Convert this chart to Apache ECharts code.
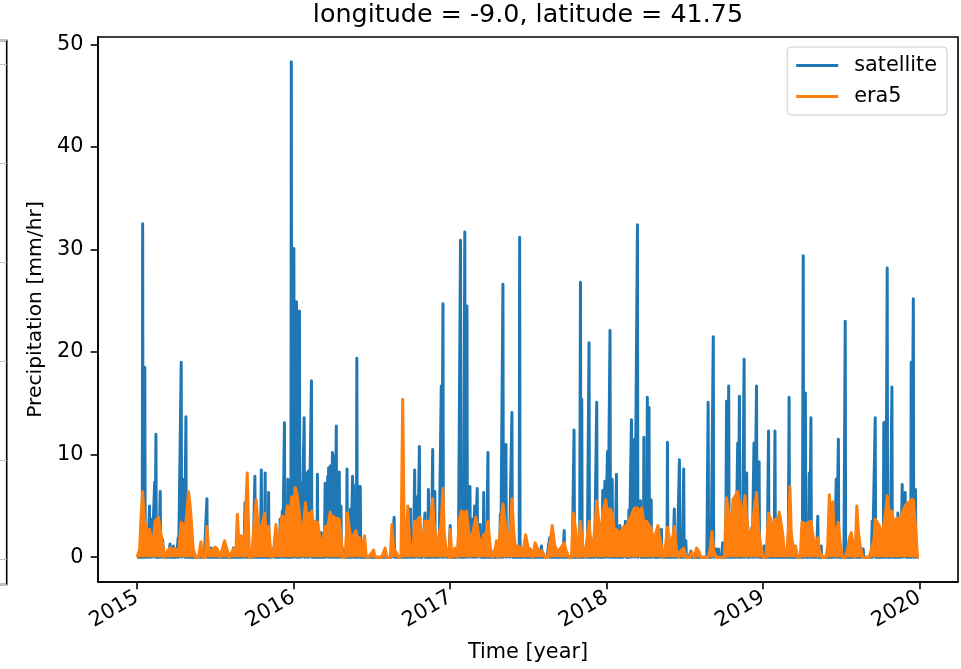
<!DOCTYPE html>
<html><head><meta charset="utf-8">
<script src="https://cdn.jsdelivr.net/npm/echarts@6/dist/echarts.min.js"></script>
<style>html,body{margin:0;padding:0;background:#fff}#c{width:961px;height:669px}</style>
</head><body><div id="c"></div><script>
// ---- chart text ----
const titleText = 'longitude = -9.0, latitude = 41.75';
const xAxisName = 'Time [year]';
const yAxisName = 'Precipitation [mm/hr]';
const seriesNames = ['satellite', 'era5'];
const yearTicks = [2015, 2016, 2017, 2018, 2019, 2020];
const yTicks = [0, 10, 20, 30, 40, 50];
// ---- data: days since 2015-01-01 (daily record, 2015-01-01 .. 2019-12-31) ----
const lastDay = 1825;
// satellite: wet days [day, mm/hr]; all other days read as 0
const satelliteWetDays = [[13,32.5],[18,18.5],[29,5.0],[34,3.7],[41,7.3],[44,12.0],[54,6.4],[60,1.7],[77,1.3],[85,1.1],
[96,1.9],[103,19.0],[110,7.6],[114,13.7],[163,5.7],[173,0.9],[225,0.9],[248,1.7],[252,5.3],[275,7.9],
[290,8.5],[299,8.2],[307,6.3],[319,0.9],[334,3.7],[339,4.5],[344,13.1],[352,7.6],[360,48.3],[366,30.1],
[372,24.9],[375,6.6],[379,24.0],[383,7.2],[390,13.6],[395,8.2],[400,8.4],[407,17.2],[421,8.1],[430,2.4],
[439,7.2],[445,7.9],[447,8.7],[451,8.9],[456,10.2],[461,9.9],[465,12.8],[469,7.9],[472,8.3],[476,5.0],
[482,0.8],[490,8.6],[498,4.7],[503,7.9],[505,7.1],[513,19.4],[517,6.9],[521,6.9],[600,3.9],[627,1.9],
[638,4.7],[648,8.5],[654,5.9],[659,10.8],[672,4.3],[680,6.6],[690,10.5],[695,6.4],[704,1.3],[710,16.7],
[714,24.7],[721,0.8],[731,3.1],[755,30.9],[765,31.7],[770,24.5],[777,6.9],[783,3.7],[788,5.0],[794,6.7],
[801,3.2],[809,6.3],[819,10.2],[833,0.6],[848,4.2],[854,26.6],[861,11.0],[868,1.1],[875,14.1],[885,1.1],
[893,31.2],[904,0.8],[944,1.1],[963,1.9],[997,2.6],[1020,12.4],[1035,26.8],[1038,15.4],[1055,20.9],[1073,15.1],
[1087,6.5],[1092,7.4],[1098,10.3],[1104,22.1],[1109,7.6],[1119,8.1],[1127,3.1],[1140,3.5],[1148,4.6],[1154,13.4],
[1161,11.5],[1168,32.4],[1175,5.5],[1183,11.7],[1191,15.6],[1195,14.6],[1200,5.6],[1206,1.6],[1224,2.7],[1238,11.2],
[1254,4.7],[1266,9.5],[1276,8.6],[1281,1.6],[1293,0.6],[1333,15.1],[1345,21.5],[1351,0.8],[1357,0.8],[1367,1.4],
[1376,15.2],[1381,16.7],[1391,3.5],[1402,11.1],[1406,15.7],[1417,19.3],[1423,8.2],[1435,2.9],[1440,11.1],[1446,16.7],
[1452,9.3],[1464,1.1],[1474,12.3],[1489,12.3],[1522,15.6],[1555,29.4],[1560,16.0],[1569,8.2],[1573,13.6],[1589,4.0],
[1597,1.1],[1632,7.6],[1637,11.5],[1653,23.0],[1695,0.8],[1716,3.5],[1723,13.6],[1743,13.1],[1747,13.2],[1751,28.2],
[1762,16.6],[1776,4.3],[1786,7.1],[1793,6.3],[1807,19.0],[1812,25.2],[1817,6.6]];
// era5: readings [day, mm/hr]
const era5Readings = [[0,0],[4,0],[6,0.8],[9,3.7],[13,6.4],[18,2.9],[21,3.2],[24,2.1],[29,2.7],[33,2.6],[37,1.1],[42,3.5],[46,3.5],[50,3.9],[54,2.7],[58,1.7],[61,1.7],[65,0],[71,0.6],[77,0.9],[82,0.6],[87,0.9],[93,0.6],[98,0.9],[103,3.4],[107,3.2],[112,2.7],[116,4.3],[120,6.4],[124,5.0],[128,2.7],[131,0.8],[137,0],[143,0],[149,1.5],[153,0],[159,0],[163,3.0],[167,0.8],[174,0.6],[182,1.0],[187,0.8],[194,0],[204,1.6],[209,0.9],[215,0],[225,0.8],[231,0.9],[234,4.2],[238,1.1],[243,2.1],[246,0.8],[252,2.7],[257,8.2],[262,0],[267,0],[273,3.0],[278,5.6],[283,2.7],[287,2.7],[292,3.2],[298,4.3],[302,1.7],[307,3.0],[313,0],[319,0.8],[324,3.2],[328,0.9],[333,2.4],[338,4.0],[342,4.0],[346,3.7],[351,5.0],[356,4.3],[361,5.9],[365,4.3],[369,6.8],[373,6.3],[377,5.0],[381,3.4],[385,2.1],[389,3.4],[393,5.3],[396,3.4],[400,4.3],[404,3.7],[408,4.5],[412,3.0],[416,3.5],[421,3.4],[426,2.1],[430,1.4],[435,1.7],[439,3.0],[445,3.0],[451,4.4],[455,3.5],[459,4.0],[463,3.4],[466,3.8],[472,3.7],[477,1.7],[480,0],[486,0],[491,4.3],[495,3.0],[500,1.4],[505,2.1],[511,2.6],[515,1.7],[519,1.9],[523,0.8],[527,1.1],[531,2.1],[535,0],[540,0],[552,0.7],[556,0],[571,0],[579,0.9],[583,0],[591,0],[595,3.2],[599,0.8],[603,0.6],[611,0],[616,0],[620,15.4],[624,0.8],[628,1.4],[632,5.0],[636,1.7],[640,0.8],[644,0.6],[648,3.5],[652,2.7],[656,3.7],[660,3.9],[664,1.7],[668,1.1],[672,3.5],[676,3.4],[679,3.5],[683,2.7],[690,5.7],[693,3.4],[697,2.1],[701,1.3],[705,1.3],[710,3.4],[714,6.7],[717,2.4],[722,0.6],[728,0],[731,2.7],[735,0],[742,0.9],[747,0],[752,3.7],[757,4.5],[763,4.3],[769,4.5],[774,2.4],[780,1.7],[784,1.7],[791,3.9],[796,2.4],[801,1.4],[805,1.1],[809,2.2],[815,2.4],[819,3.5],[825,0.8],[830,0],[835,0.6],[839,1.6],[843,0],[848,2.9],[854,5.2],[858,3.7],[862,3.7],[868,1.4],[871,2.4],[875,5.7],[879,2.7],[883,0.9],[889,1.1],[895,0.8],[901,0.6],[907,2.2],[913,0.9],[919,0.8],[924,0],[929,1.4],[934,0.9],[940,0.6],[946,0.6],[952,0],[958,0],[963,1.1],[969,3.1],[975,1.1],[981,0.6],[987,0.8],[991,0.9],[997,1.4],[1002,0.6],[1008,0],[1014,0],[1018,4.3],[1024,2.6],[1029,0],[1035,3.5],[1039,1.4],[1045,0],[1049,0],[1055,3.5],[1060,1.1],[1065,1.4],[1070,3.5],[1073,5.5],[1078,3.4],[1083,2.1],[1087,4.4],[1094,5.6],[1099,4.0],[1104,4.7],[1109,4.3],[1114,2.7],[1119,2.7],[1125,2.4],[1131,2.6],[1136,3.0],[1142,3.0],[1147,3.5],[1152,3.9],[1156,4.3],[1161,4.8],[1168,4.8],[1173,4.3],[1178,4.8],[1183,3.4],[1189,3.5],[1193,3.4],[1199,2.9],[1204,2.1],[1210,2.2],[1216,3.1],[1219,2.1],[1224,1.1],[1229,0],[1234,1.3],[1238,2.9],[1243,1.7],[1248,1.4],[1254,3.0],[1259,0.8],[1264,0],[1269,0.6],[1276,0.9],[1281,0],[1289,0],[1295,0.5],[1301,0],[1306,0.9],[1311,0.6],[1316,0],[1324,0],[1332,0],[1337,0.6],[1342,2.5],[1346,0.6],[1353,0],[1363,0],[1371,0],[1376,5.8],[1381,4.3],[1386,2.4],[1391,5.6],[1395,5.9],[1402,6.4],[1406,6.4],[1412,3.9],[1416,5.0],[1419,6.0],[1423,3.9],[1426,2.7],[1431,2.4],[1436,2.7],[1440,4.5],[1446,6.3],[1451,2.6],[1456,1.1],[1462,0],[1468,0],[1474,4.3],[1479,3.7],[1484,2.6],[1489,3.7],[1495,3.4],[1499,4.4],[1503,3.4],[1507,2.3],[1510,0.8],[1517,0.6],[1521,3.1],[1524,6.9],[1527,2.4],[1531,1.1],[1537,1.1],[1542,0],[1548,0],[1552,3.4],[1556,3.5],[1562,3.2],[1567,3.4],[1573,3.5],[1579,1.7],[1585,1.1],[1589,1.9],[1593,0.6],[1601,0],[1608,0],[1612,1.1],[1616,6.1],[1620,1.7],[1624,5.4],[1628,1.4],[1632,2.4],[1637,3.4],[1641,1.4],[1647,0],[1653,0],[1659,0.8],[1663,1.9],[1667,2.4],[1672,1.1],[1676,0],[1680,5.0],[1684,2.4],[1688,1.1],[1694,0],[1703,0],[1709,0],[1716,1.1],[1720,1.7],[1723,3.7],[1728,3.4],[1733,3.0],[1737,2.1],[1742,2.9],[1747,4.3],[1751,6.0],[1756,4.3],[1762,4.5],[1766,3.4],[1770,3.7],[1776,3.8],[1781,3.7],[1786,4.3],[1789,4.3],[1793,5.0],[1797,5.2],[1801,5.2],[1807,5.6],[1812,5.6],[1817,3.0],[1820,1.1],[1822,0],[1825,0]];

// ---- build series (x = UTC timestamp in ms) ----
const DAY = 86400000;
const t0 = Date.UTC(2015, 0, 1);
const wet = new Map(satelliteWetDays);
const satData = [];
for (let d = 0; d <= lastDay; d++) satData.push([t0 + d * DAY, wet.has(d) ? wet.get(d) : 0]);
const era5Data = era5Readings.map(([d, v]) => [t0 + d * DAY, v]);
const yearStamps = yearTicks.map(y => Date.UTC(y, 0, 1));

// matplotlib-like 5% margins
const yMaxData = Math.max(...satelliteWetDays.map(p => p[1]));
const yPad = 0.05 * yMaxData;
const xPad = 0.05 * lastDay * DAY;

const BLUE = '#1f77b4', ORANGE = '#ff7f0e';
const FONT = 'DejaVu Sans';
const txt = {fontFamily: FONT, fontSize: 20.8, color: '#000'};
const chart = echarts.init(document.getElementById('c'), null, {renderer: 'canvas'});
chart.setOption({
  animation: false,
  backgroundColor: '#fff',
  title: {text: titleText, left: 528, top: 3, textAlign: 'center', padding: 0,
    textStyle: {fontFamily: FONT, fontSize: 25.4, fontWeight: 'normal', color: '#000'}},
  legend: {data: [{name: seriesNames[0], icon: 'rect', itemStyle: {color: BLUE}},
                  {name: seriesNames[1], icon: 'rect', itemStyle: {color: ORANGE}}],
    orient: 'vertical', right: 14, top: 47, z: 10,
    padding: [8, 10, 8, 9], itemGap: 10, itemWidth: 42, itemHeight: 3,
    backgroundColor: 'rgba(255,255,255,0.8)', borderColor: '#cccccc', borderWidth: 1, borderRadius: 4,
    textStyle: Object.assign({padding: [0, 0, 0, 11]}, txt)},
  grid: [
    {left: 98, top: 37, width: 860, height: 545, show: true, borderColor: '#000', borderWidth: 1.6,
     backgroundColor: 'transparent', outerBoundsMode: 'none', containLabel: false},
    {left: -60, top: 40.5, width: 66.7, height: 544, show: true, borderColor: '#000', borderWidth: 1.6,
     backgroundColor: 'transparent', outerBoundsMode: 'none', containLabel: false}
  ],
  xAxis: [
    {type: 'value', gridIndex: 0, min: t0 - xPad, max: t0 + lastDay * DAY + xPad, scale: true,
     name: xAxisName, nameLocation: 'middle', nameGap: 60, nameTextStyle: txt,
     axisLine: {show: true, onZero: false, lineStyle: {color: '#000', width: 1.6}},
     axisTick: {show: true, length: 7.3, lineStyle: {color: '#000', width: 1.6}, customValues: yearStamps},
     axisLabel: Object.assign({rotate: 30, margin: 14, customValues: yearStamps,
       formatter: v => String(new Date(v).getUTCFullYear())}, txt),
     splitLine: {show: false}},
    {type: 'value', gridIndex: 1, show: false, min: 0, max: 1}
  ],
  yAxis: [
    {type: 'value', gridIndex: 0, min: -yPad, max: yMaxData + yPad,
     name: yAxisName, nameLocation: 'middle', nameGap: 50, nameRotate: 90,
     nameTextStyle: Object.assign({}, txt, {fontSize: 20.3}),
     axisLine: {show: true, onZero: false, lineStyle: {color: '#000', width: 1.6}},
     axisTick: {show: true, length: 7.3, lineStyle: {color: '#000', width: 1.6}, customValues: yTicks},
     axisLabel: Object.assign({margin: 14.6, customValues: yTicks, formatter: v => String(v)}, txt),
     splitLine: {show: false}},
    {type: 'value', gridIndex: 1, min: -0.25, max: 5.235,
     axisLine: {show: false}, axisTick: {show: false}, axisLabel: {show: false},
     splitLine: {show: true, lineStyle: {color: '#c4c4c4', width: 1.2}}}
  ],
  series: [
    {type: 'line', name: seriesNames[0], xAxisIndex: 0, yAxisIndex: 0, data: satData, z: 2,
     symbol: 'none', showSymbol: false, silent: true,
     itemStyle: {color: BLUE}, lineStyle: {color: BLUE, width: 3, join: 'round'}},
    {type: 'line', name: seriesNames[1], xAxisIndex: 0, yAxisIndex: 0, data: era5Data, z: 3,
     symbol: 'none', showSymbol: false, silent: true,
     itemStyle: {color: ORANGE}, lineStyle: {color: ORANGE, width: 3, join: 'round'},
     areaStyle: {color: ORANGE, opacity: 1}}
  ]
});
</script></body></html>
